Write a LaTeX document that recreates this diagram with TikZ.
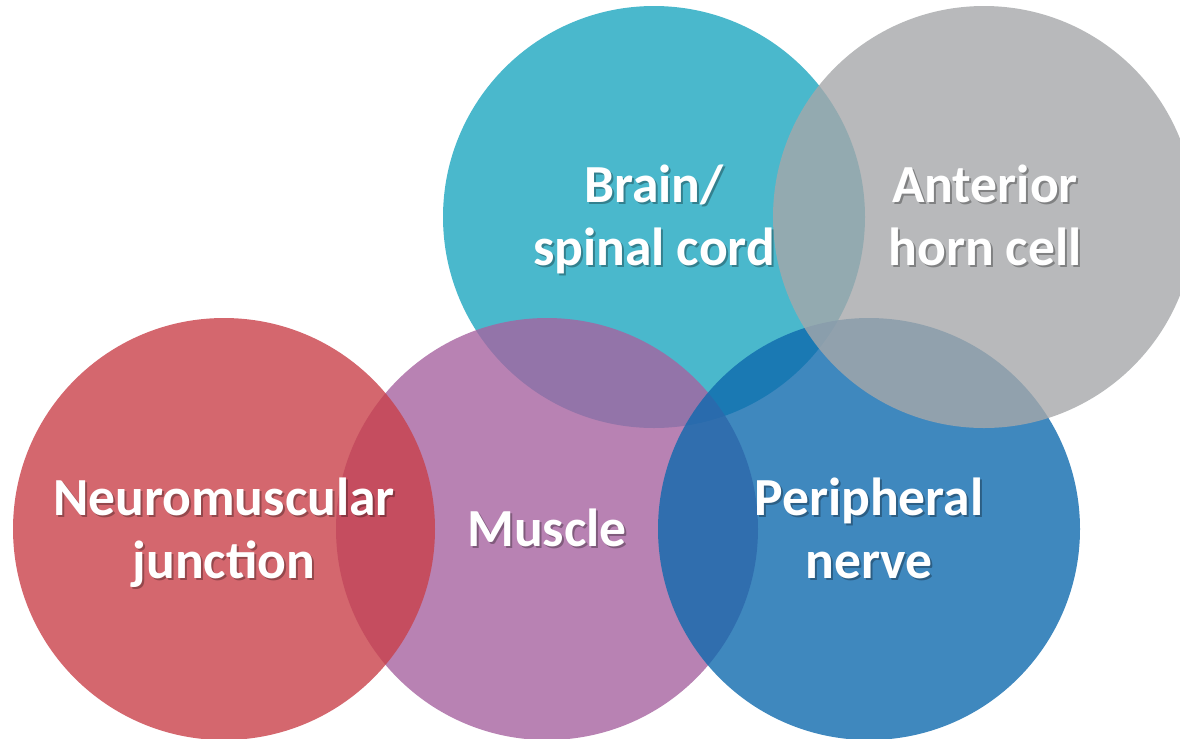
\documentclass[tikz,border=0pt]{standalone}
\usepackage{fontspec}
\setmainfont{Carlito}
\definecolor{cteal}{RGB}{29,166,191}
\definecolor{cgray}{RGB}{166,168,170}
\definecolor{cred}{RGB}{201,65,74}
\definecolor{cpurple}{RGB}{166,99,160}
\definecolor{cblue}{RGB}{15,106,174}
\tikzset{
  disc/.style={fill=#1, fill opacity=0.8, draw=none},
  lbltext/.style={font=\fontsize{30.5}{36}\selectfont\bfseries, text=white, inner sep=0pt, anchor=base},
  lblshadow/.style={font=\fontsize{30.5}{36}\selectfont\bfseries, text=black, text opacity=0.3, inner sep=0pt, anchor=base},
}
\newcommand{\lbl}[4]{%
  \node[lblshadow] (#1s) at (#2+2,#3+2) {#4};
  \node[lbltext] (#1) at (#2,#3) {#4};
}
\begin{document}
\begin{tikzpicture}[x=0.02cm,y=-0.02cm]
\useasboundingbox (0,0) rectangle (1180,738);
\fill[disc=cteal] (654,217) circle[radius=211];
\fill[disc=cpurple] (547,529) circle[radius=211];
\fill[disc=cred] (224,529) circle[radius=211];
\fill[disc=cblue] (869,529) circle[radius=211];
\fill[disc=cgray] (984,217) circle[radius=211];
\lbl{brainA}{654}{202}{Brain/}
\lbl{brainB}{654}{265}{spinal cord}
\lbl{antA}{985}{202}{Anterior}
\lbl{antB}{985}{265}{horn cell}
\lbl{nmjA}{224}{515}{Neuromuscular}
\lbl{nmjB}{224}{578}{junction}
\lbl{mus}{547}{546}{Muscle}
\lbl{perA}{869}{515}{Peripheral}
\lbl{perB}{869}{578}{nerve}
\end{tikzpicture}
\end{document}
